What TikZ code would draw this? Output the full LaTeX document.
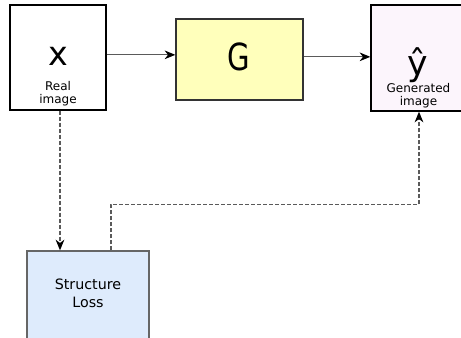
\documentclass[tikz,border=0pt]{standalone}
\usepackage{fontspec}
\setmainfont{DejaVu Sans}
\usetikzlibrary{arrows.meta}
\definecolor{gyellow}{RGB}{255,255,187}
\definecolor{gpink}{RGB}{252,245,252}
\definecolor{lblue}{RGB}{222,235,252}
\definecolor{lgray}{RGB}{90,90,90}
\tikzset{
  box/.style={draw, line width=1pt, inner sep=0pt},
  flow/.style={draw=lgray, line width=0.8pt, -{Stealth[length=8pt, width=6.5pt, inset=2.5pt, black]}},
  lossflow/.style={flow, dash pattern=on 3pt off 1.5pt},
  lbl/.style={align=center, font=\fontsize{9}{10}\selectfont, inner sep=0pt},
}
\begin{document}
\begin{tikzpicture}[x=0.75pt, y=-0.75pt]
    \useasboundingbox (0, 0) rectangle (461, 337);

    % boxes
    \node [box, minimum width=72pt, minimum height=78.75pt] (real) at (58, 57.5) {};
    \node [box, draw=black!80, fill=gyellow, minimum width=95.25pt, minimum height=60.75pt] (G) at (239.5, 59.5) {};
    \node [box, fill=gpink, minimum width=72pt, minimum height=79.5pt] (gen) at (419, 58) {};
    \node [box, draw=black!60, fill=lblue, minimum width=91.5pt, minimum height=75pt] (loss) at (88, 301) {};

    % texts
    \node [lbl, anchor=base, font=\fontsize{25}{25}\selectfont] (xsym) at (58, 65) {x};
    \node [lbl] (realtxt) at (58, 93.5) {Real\\image};
    \node [lbl, anchor=base, font=\fontsize{28}{28}\selectfont] (gsym) at (239, 70) {\scalebox{0.78}[1]{G}};
    \node [lbl, anchor=base, font=\fontsize{26}{26}\selectfont] (ysym) at (418, 75) {ŷ};
    \node [lbl] (gentxt) at (418.5, 95.5) {Generated\\image};
    \node [lbl, font=\fontsize{10.7}{13.5}\selectfont] (losstxt) at (88, 293.5) {Structure\\Loss};

    % connectors
    \draw [flow] ([yshift=2pt]real.east) -- ([yshift=2pt]real.east -| G.west);
    \draw [flow] ([yshift=2pt]G.east) -- ([yshift=2pt]G.east -| gen.west);
    \draw [lossflow] ([xshift=1.5pt]real.south) -- ([xshift=1.5pt]real.south |- loss.north);
    \draw [lossflow] ([xshift=17.25pt]loss.north) -- ++(0, -46) -| (gen.south);
\end{tikzpicture}
\end{document}
